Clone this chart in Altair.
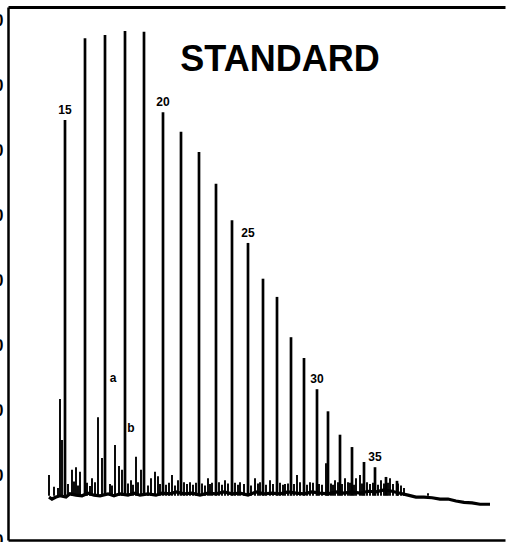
import altair as alt
import pandas as pd

# n-alkane peaks (carbon number, retention time in min, detector response)
carbon = list(range(15, 38))
peak_time = [5.7, 7.7, 9.7, 11.7, 13.6, 15.5, 17.3, 19.1, 20.8, 22.4, 24.0, 25.5,
             26.9, 28.3, 29.6, 30.9, 32.0, 33.2, 34.4, 35.6, 36.7, 37.8, 38.9]
peak_height = [64.6, 77.2, 77.7, 78.3, 78.2, 65.8, 62.8, 59.7, 54.8, 49.2, 45.7, 40.2,
               37.4, 31.2, 28.0, 23.2, 19.8, 16.2, 14.3, 12.0, 11.2, 9.7, 9.1]
labelled = [15, 20, 25, 30, 35]

# smaller, unresolved components between the alkanes
minor_time = [4.1, 5.2, 5.4, 6.4, 6.8, 7.2, 8.4, 9.0, 9.4, 10.7, 11.1, 11.4, 12.3, 12.8,
              13.3, 14.3, 14.7, 15.0, 16.4, 17.0, 18.2, 20.0, 20.4, 21.7, 23.2, 24.7,
              26.2, 27.7, 28.9, 30.2, 31.4, 31.8, 32.7, 33.7, 34.0, 34.8, 35.2, 37.3,
              38.2, 39.6, 42.0]
minor_height = [10.0, 21.7, 15.4, 10.8, 11.2, 10.5, 9.5, 18.9, 12.6, 14.6, 11.4, 10.8,
                9.2, 12.8, 10.8, 9.5, 10.5, 9.8, 10.0, 9.2, 8.9, 9.5, 8.8, 9.2, 8.9, 9.5,
                9.2, 8.6, 10.0, 8.9, 8.5, 11.8, 9.2, 9.5, 8.9, 9.5, 10.0, 9.2, 9.5, 8.0,
                7.2]

# baseline hash: tiny spikes riding on the baseline
hash_time = [4.6, 5.0, 6.0, 6.6, 7.0, 7.9, 8.2, 8.7, 10.2, 10.4, 12.0, 12.5, 13.0, 14.0,
             15.2, 15.8, 16.1, 16.7, 17.6, 17.9, 18.5, 18.8, 19.4, 19.7, 20.2, 21.1,
             21.4, 22.0, 22.7, 23.0, 23.6, 24.3, 25.0, 25.2, 25.8, 26.5, 27.2, 27.5,
             28.0, 28.6, 29.2, 29.9, 30.5, 31.1, 32.3, 32.5, 33.0, 33.4, 34.2, 34.6,
             35.4, 35.9, 36.2, 36.5, 37.0, 37.6, 38.0, 38.5, 39.0, 39.3]
hash_height = [8.2, 8.0, 8.6, 9.0, 8.4, 8.8, 8.3, 8.9, 8.6, 8.4, 8.7, 8.5, 8.9, 8.4,
               8.6, 8.5, 8.8, 8.4, 8.9, 8.6, 8.5, 8.8, 8.7, 8.4, 8.6, 8.9, 8.5, 8.7,
               8.8, 8.5, 8.6, 8.4, 8.7, 8.9, 8.5, 8.6, 8.8, 8.5, 8.7, 8.6, 8.9, 8.5,
               8.8, 8.6, 8.7, 8.5, 8.9, 8.6, 8.8, 8.5, 8.7, 8.9, 8.6, 8.8, 8.5, 8.7,
               8.8, 8.6, 8.7, 8.4]

# detector baseline
base_time = [4.1, 4.4, 4.8, 5.2, 5.8, 6.2, 6.8, 7.4, 8.0, 8.6, 9.2, 10.0, 10.6, 11.2,
             12.0, 12.6, 13.2, 14.0, 14.8, 15.4, 16.2, 16.8, 17.6, 18.4, 19.2, 20.0,
             20.8, 21.6, 22.4, 23.2, 24.0, 24.8, 25.6, 26.4, 27.2, 28.0, 28.8, 29.6,
             30.4, 31.2, 32.0, 32.8, 33.6, 34.4, 35.2, 36.0, 36.8, 37.6, 38.4, 39.2,
             40.0, 40.8, 41.6, 42.4, 43.2, 44.0, 44.8, 45.6, 46.4, 47.2, 48.2]
base_level = [6.6, 6.3, 6.6, 6.8, 6.6, 7.1, 6.9, 6.8, 7.2, 6.9, 6.8, 7.1, 6.8, 7.1,
              6.9, 7.2, 6.9, 7.1, 6.9, 7.2, 7.1, 7.4, 7.1, 7.2, 6.9, 7.2, 7.1, 7.4,
              7.1, 7.2, 6.9, 7.4, 7.1, 7.2, 7.1, 7.4, 7.2, 7.1, 7.4, 7.2, 7.1, 7.4,
              7.2, 7.4, 7.2, 7.5, 7.4, 7.7, 7.5, 7.2, 6.9, 6.6, 6.6, 6.5, 6.3, 6.3,
              6.0, 5.8, 5.7, 5.5, 5.5]

# isoprenoid markers
marker_text = ["a", "b"]
marker_time = [10.5, 12.3]
marker_height = [24.9, 17.2]

FOOT = 6.8
y_ticks = list(range(0, 81, 10))

peaks = pd.DataFrame({"c": carbon, "t": peak_time, "h": peak_height, "foot": FOOT})
minor = pd.DataFrame({"t": minor_time + hash_time, "h": minor_height + hash_height, "foot": FOOT})
base = pd.DataFrame({"t": base_time, "h": base_level})
labels = peaks[peaks["c"].isin(labelled)].assign(txt=lambda d: d["c"].astype(str))
markers = pd.DataFrame({"t": marker_time, "h": marker_height, "txt": marker_text})

FONT = "Liberation Sans"
x_scale = alt.Scale(domain=[0, 49.7], nice=False, zero=False)
y_scale = alt.Scale(domain=[0, 82], nice=False)

frame = dict(domainColor="black", ticks=False, tickSize=0, grid=False, labels=False, title=None)

main = alt.Chart(peaks).mark_rule(color="black", strokeWidth=2.7).encode(
    x=alt.X("t:Q", scale=x_scale, axis=alt.Axis(orient="bottom", domainWidth=2.5, **frame)),
    y=alt.Y("h:Q", scale=y_scale, axis=alt.Axis(
        values=y_ticks, domainColor="black", domainWidth=2.5, ticks=False, tickSize=0,
        grid=False, title=None, labelFont=FONT, labelFontSize=16, labelFontWeight="bold",
        labelColor="black", labelPadding=5)),
    y2="foot:Q",
)

small = alt.Chart(minor).mark_rule(color="black", strokeWidth=1.9).encode(
    x=alt.X("t:Q", scale=x_scale, axis=None),
    y=alt.Y("h:Q", scale=y_scale, axis=None),
    y2="foot:Q",
)

trace = alt.Chart(base).mark_line(color="black", strokeWidth=3.2, interpolate="linear").encode(
    x=alt.X("t:Q", scale=x_scale, axis=alt.Axis(orient="top", domainWidth=3, **frame)),
    y=alt.Y("h:Q", scale=y_scale, axis=None),
)

num = alt.Chart(labels).mark_text(
    font=FONT, fontSize=12, fontWeight="bold", color="black", baseline="bottom", dy=-3
).encode(
    x=alt.X("t:Q", scale=x_scale, axis=None),
    y=alt.Y("h:Q", scale=y_scale, axis=None),
    text="txt:N",
)

mk = alt.Chart(markers).mark_text(
    font=FONT, fontSize=12, fontWeight="bold", color="black", baseline="middle"
).encode(
    x=alt.X("t:Q", scale=x_scale, axis=None),
    y=alt.Y("h:Q", scale=y_scale, axis=None),
    text="txt:N",
)

title = alt.Chart(pd.DataFrame({"txt": ["STANDARD"]})).mark_text(
    font=FONT, fontSize=36, fontWeight="bold", color="black", baseline="alphabetic", align="center"
).encode(x=alt.value(272), y=alt.value(64), text="txt:N")

chart = alt.layer(main, small, trace, num, mk, title).resolve_axis(
    x="independent", y="independent"
).properties(
    width=497, height=533,
    padding={"left": 8, "top": 7, "right": 2, "bottom": 2},
    autosize=alt.AutoSizeParams(type="none"),
    background="white",
).configure_view(stroke=None)

chart.save("out.html", embed_options={"renderer": "svg", "actions": False})
